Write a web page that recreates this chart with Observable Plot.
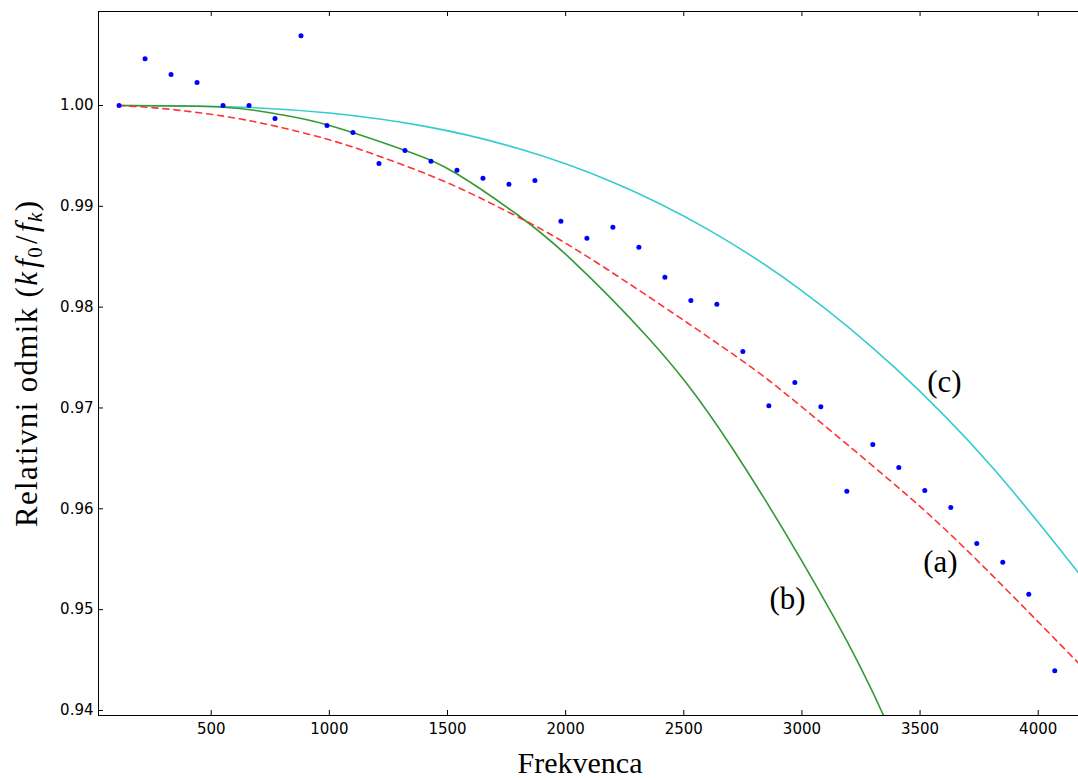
<!DOCTYPE html>
<html>
<head>
<meta charset="utf-8">
<script src="https://cdn.jsdelivr.net/npm/d3@7"></script>
<script src="https://cdn.jsdelivr.net/npm/@observablehq/plot@0.6"></script>
<style>
  html, body { margin: 0; padding: 0; background: #ffffff; }
  #chart { width: 1078px; height: 780px; }
</style>
</head>
<body>
<div id="chart"></div>
<script>
// ---- Data ----
const pointFreq = [110, 220, 330, 440, 550, 660, 770, 880, 990, 1100, 1210, 1320, 1430, 1540, 1650, 1760, 1870, 1980, 2090, 2200, 2310, 2420, 2530, 2640, 2750, 2860, 2970, 3080, 3190, 3300, 3410, 3520, 3630, 3740, 3850, 3960, 4070, 4180];
const pointValue = [1.00000, 1.00463, 1.00308, 1.00228, 1.00000, 1.00000, 0.99871, 1.00691, 0.99802, 0.99732, 0.99425, 0.99554, 0.99447, 0.99358, 0.99279, 0.99219, 0.99256, 0.98852, 0.98684, 0.98793, 0.98594, 0.98297, 0.98065, 0.98029, 0.97560, 0.97021, 0.97252, 0.97012, 0.96174, 0.96637, 0.96409, 0.96181, 0.96012, 0.95656, 0.95471, 0.95153, 0.94393, 0.94634];

// curve (a): red dashed
const curveAFreq = [110, 305, 552, 771, 1010, 1222, 1434, 1617, 1800, 2106, 2661, 2967, 3363, 3702, 4174];
const curveAValue = [1.00000, 0.99967, 0.99894, 0.99795, 0.99653, 0.99487, 0.99299, 0.99107, 0.98892, 0.98480, 0.97610, 0.97073, 0.96300, 0.95580, 0.94461];

// curve (b): green
const curveBFreq = [110, 552, 771, 989, 1321, 1539, 1800, 2021, 2349, 2700, 3137, 3346];
const curveBValue = [1.00000, 0.99983, 0.99918, 0.99809, 0.99554, 0.99323, 0.98909, 0.98479, 0.97697, 0.96620, 0.94919, 0.93948];

// curve (c): cyan
const curveCFreq = [110, 600, 1000, 1400, 1800, 2200, 2600, 3000, 3400, 3800, 4174];
const curveCValue = [1.00000, 0.99985, 0.99925, 0.99795, 0.99573, 0.99239, 0.98774, 0.98162, 0.97385, 0.96427, 0.95354];

const xTicks = [500, 1000, 1500, 2000, 2500, 3000, 3500, 4000];
const yTicks = [0.94, 0.95, 0.96, 0.97, 0.98, 0.99, 1.00];

const labelText = ["(a)", "(b)", "(c)"];
const labelFreq = [3586, 2939, 3603];
const labelValue = [0.95468, 0.95101, 0.97253];

const xTitle = "Frekvenca";
const yTitle = "Relativni odmik";

// ---- Build tables ----
const zip = (xs, ys) => xs.map((x, i) => ({x, y: ys[i]}));
const points = zip(pointFreq, pointValue);
const curveA = zip(curveAFreq, curveAValue);
const curveB = zip(curveBFreq, curveBValue);
const curveC = zip(curveCFreq, curveCValue);
const labels = labelText.map((t, i) => ({text: t, x: labelFreq[i], y: labelValue[i]}));

const W = 1078, H = 780;
const mL = 98, mR = 0, mT = 11, mB = 65;
const plotW = W - mL - mR, plotH = H - mT - mB;

const serif = "'Liberation Serif', 'Times New Roman', serif";

const chart = Plot.plot({
  width: W,
  height: H,
  marginLeft: mL,
  marginRight: mR,
  marginTop: mT,
  marginBottom: mB,
  style: {fontFamily: "'DejaVu Sans', sans-serif", fontSize: "15px", background: "#ffffff", color: "#000000", overflow: "hidden"},
  x: {domain: [23, 4170.5]},
  y: {domain: [0.9395, 1.00932]},
  marks: [
    Plot.line(curveC, {x: "x", y: "y", stroke: "#33cccc", strokeWidth: 1.6, curve: "natural", clip: true}),
    Plot.line(curveB, {x: "x", y: "y", stroke: "#339933", strokeWidth: 1.6, curve: "natural", clip: true}),
    Plot.line(curveA, {x: "x", y: "y", stroke: "#ff3333", strokeWidth: 1.6, strokeDasharray: "6,5", curve: "natural", clip: true}),
    Plot.dot(points, {x: "x", y: "y", r: 2.5, fill: "#0000ff", stroke: null, clip: true}),
    Plot.text(labels, {x: "x", y: "y", text: "text", fontSize: 31, fontFamily: serif, textAnchor: "middle", lineAnchor: "middle", fill: "#000000"}),
    // inward ticks
    Plot.tickX(xTicks, {x: d => d, insetTop: plotH - 5, stroke: "#000000"}),
    Plot.tickX(xTicks, {x: d => d, insetBottom: plotH - 5, stroke: "#000000"}),
    Plot.tickY(yTicks, {y: d => d, insetRight: plotW - 5, stroke: "#000000"}),
    Plot.axisX(xTicks, {anchor: "bottom", tickSize: 0, tickPadding: 8, tickFormat: d => String(d), label: null}),
    Plot.axisY(yTicks, {anchor: "left", tickSize: 0, tickPadding: 5, tickFormat: d => d.toFixed(2), label: null}),
    Plot.frame({anchor: "left", stroke: "#000000"}),
    Plot.frame({anchor: "top", stroke: "#000000"}),
    Plot.frame({anchor: "bottom", stroke: "#000000"})
  ]
});

document.getElementById("chart").appendChild(chart);

// ---- Axis titles (real text with math parts) ----
const svg = d3.select(chart);
svg.append("text")
  .attr("x", mL + plotW / 2 - 8)
  .attr("y", 773)
  .attr("text-anchor", "middle")
  .attr("font-family", serif)
  .attr("font-size", 30)
  .attr("fill", "#000000")
  .text(xTitle);

const yt = svg.append("text")
  .attr("transform", "translate(37,364) rotate(-90)")
  .attr("text-anchor", "middle")
  .attr("font-family", serif)
  .attr("font-size", 31)
  .attr("textLength", 326)
  .attr("lengthAdjust", "spacing")
  .attr("fill", "#000000");
yt.append("tspan").text(yTitle + " (");
yt.append("tspan").attr("font-style", "italic").text("k");
yt.append("tspan").attr("font-style", "italic").attr("dx", 3).text("f");
yt.append("tspan").attr("font-size", 21).attr("dy", 5).text("0");
yt.append("tspan").attr("dy", -5).attr("dx", 2).text("/");
yt.append("tspan").attr("font-style", "italic").attr("dx", 2).text("f");
yt.append("tspan").attr("font-size", 21).attr("font-style", "italic").attr("dy", 5).text("k");
yt.append("tspan").attr("dy", -5).text(")");
</script>
</body>
</html>
